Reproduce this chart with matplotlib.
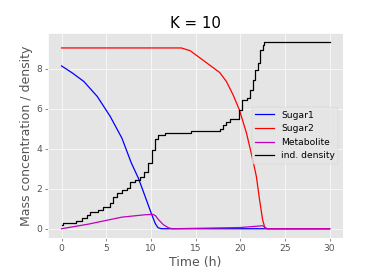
import matplotlib
matplotlib.use("Agg")
import matplotlib.pyplot as plt

plt.style.use("ggplot")

# Sugar1 (blue)
t_s1 = [0, 1.2, 2.5, 4.0, 5.45, 6.76, 7.8, 8.6, 9.35, 10.1, 10.5, 10.8, 11.2, 30]
s1 = [8.15, 7.8, 7.37, 6.62, 5.62, 4.53, 3.3, 2.53, 1.62, 0.7, 0.25, 0.05, 0.0, 0.0]

# Sugar2 (red)
t_s2 = [0, 13.4, 14.4, 17.7, 18.45, 19.2, 19.9, 20.7, 21.4, 21.8, 22.16, 22.5, 22.75, 23.0, 30]
s2 = [9.05, 9.05, 8.91, 7.82, 7.37, 6.7, 5.95, 4.78, 3.45, 2.62, 1.45, 0.45, 0.05, 0.0, 0.0]

# Metabolite (magenta)
t_m = [0, 3.0, 6.75, 9.35, 10.2, 10.5, 10.8, 11.4, 12.0, 12.4, 15, 20, 22.5, 23.0, 30]
met = [0.0, 0.23, 0.58, 0.70, 0.72, 0.66, 0.48, 0.2, 0.04, 0.0, 0.02, 0.06, 0.15, 0.0, 0.0]

# ind. density (black, stepwise)
t_d = [0, 0.2, 1.6, 2.3, 2.85, 3.2, 4.1, 4.6, 5.45, 5.8, 6.2, 6.75, 7.3, 7.7, 8.2, 8.8,
       9.2, 9.7, 10.1, 10.5, 10.8, 11.6, 14.5, 17.7, 18.1, 18.45, 18.8, 19.9, 20.2, 20.7,
       21.05, 21.4, 21.7, 22.0, 22.2, 22.5, 22.7, 30]
dens = [0.2, 0.28, 0.4, 0.53, 0.7, 0.82, 0.95, 1.08, 1.27, 1.6, 1.8, 1.95, 2.03, 2.35, 2.43, 2.6,
        2.85, 3.27, 3.93, 4.5, 4.7, 4.8, 4.9, 4.98, 5.2, 5.32, 5.48, 5.95, 6.45, 6.53,
        6.95, 7.45, 7.95, 8.32, 8.95, 9.2, 9.33, 9.33]

fig = plt.figure(figsize=(382 / 60, 273 / 60), dpi=60)
ax = fig.add_axes([0.126, 0.128, 0.772, 0.751])

ax.plot(t_s1, s1, color="b", label="Sugar1")
ax.plot(t_s2, s2, color="r", label="Sugar2")
ax.plot(t_m, met, color="m", label="Metabolite")
ax.step(t_d, dens, where="post", color="k", label="ind. density")

ax.set_xlabel("Time (h)", fontsize=15)
ax.set_ylabel("Mass concentration / density", fontsize=15)
ax.set_title("K = 10", color="black", fontsize=18)
ax.tick_params(labelsize=11)
ax.legend(loc="center right", fontsize=11)

fig.savefig("out.png", dpi=60)
